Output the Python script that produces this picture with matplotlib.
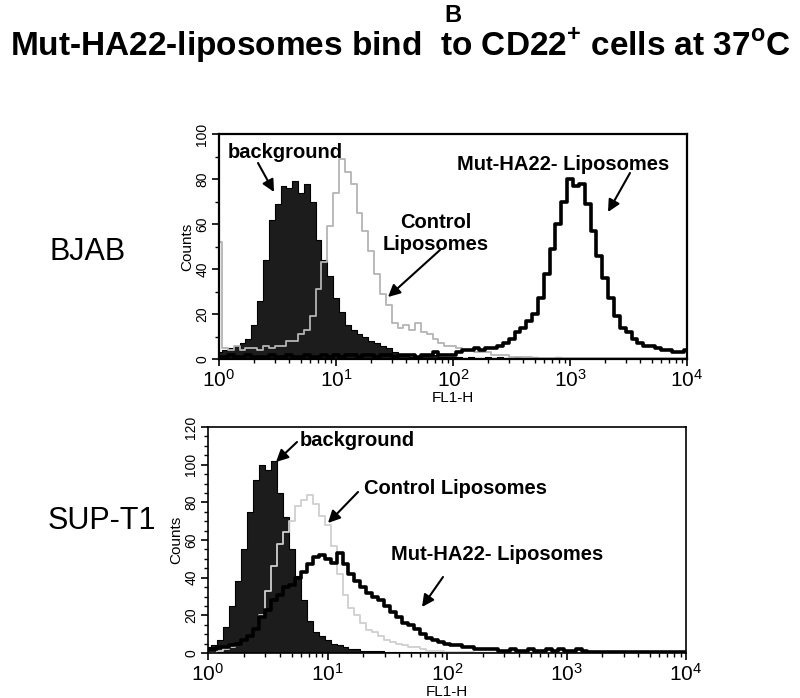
import numpy as np
import matplotlib
matplotlib.use("Agg")
import matplotlib.pyplot as plt
from matplotlib.ticker import MultipleLocator, LogLocator, NullFormatter

plt.rcParams['font.family'] = ['Liberation Sans', 'DejaVu Sans']
narrow = ['Liberation Sans Narrow', 'Liberation Sans', 'DejaVu Sans']

# FL1-H channels, every 0.05 decade from 10^0 to 10^4
fl1_log = np.round(np.arange(0, 4.0001, 0.05), 2)

# BJAB histograms (counts per channel)
bg_bjab = [3, 4, 5, 6, 7, 9, 15, 26, 44, 62, 69, 77, 76, 79, 74, 78, 70, 53, 44, 37,
           27, 21, 15, 13, 11, 10, 8, 7, 6, 5, 3, 2, 2, 1, 1, 2, 2, 2, 1, 1,
           1, 1, 0.5, 1, 0.5, 0.5, 1, 0.5, 1, 0.5, 0.5, 1, 0.5, 0.5, 1, 0.5, 0.5, 0.5, 1, 0.5,
           0.5, 0.5, 0.5, 0.5, 0.5, 0.5, 0.5, 0.5, 0.5, 0.5, 0.5, 0.5, 0.5, 0.5, 0.5, 0.5, 0.5, 0.5, 0.5, 0.5,
           0.5]
ctrl_bjab = [52, 5, 4, 6, 4, 5, 5, 4, 6, 5, 6, 6, 8, 8, 11, 13, 19, 31, 43, 59,
             74, 89, 83, 78, 65, 57, 48, 38, 29, 24, 16, 14, 15, 13, 16, 12, 11, 9, 7, 6,
             6, 5, 4, 4, 3, 3, 3, 2, 2, 2, 1, 1, 1, 1, 0.5, 0.5, 0.5, 0.5, 0.5, 0.5,
             0.5, 0.5, 0.5, 0.5, 0.5, 0.5, 0.5, 0.5, 0.5, 0.5, 0.5, 0.5, 0.5, 0.5, 0.5, 0.5, 0.5, 0.5, 0.5, 0.5,
             0.5]
mut_bjab = [1, 1, 2, 1, 1, 2, 1, 1, 1, 2, 1, 1, 2, 1, 1, 2, 1, 1, 2, 1,
            2, 1, 2, 2, 1, 2, 2, 1, 2, 2, 1, 2, 2, 2, 1, 2, 2, 3, 2, 2,
            2, 3, 4, 4, 5, 4, 5, 5, 6, 7, 9, 12, 14, 17, 20, 27, 38, 49, 60, 70,
            80, 77, 78, 69, 57, 46, 36, 27, 19, 14, 12, 9, 7, 6, 6, 5, 4, 4, 3, 3,
            4]

# SUP-T1 histograms
bg_sup = [3, 4, 7, 14, 25, 38, 55, 75, 92, 100, 97, 102, 85, 72, 55, 41, 28, 17, 11, 9,
          7, 5, 4, 3, 2, 2, 1, 1, 1, 1, 0.5, 0.5, 0.5, 0.5, 0.5, 0.5, 0.5, 0.5, 0.5, 0.5,
          0.5, 0.5, 0.5, 0.5, 0.5, 0.5, 0.5, 0.5, 0.5, 0.5, 0.5, 0.5, 0.5, 0.5, 0.5, 0.5, 0.5, 0.5, 0.5, 0.5,
          0, 0, 0, 0, 0, 0, 0, 0, 0, 0, 0, 0, 0, 0, 0, 0, 0, 0, 0, 0,
          0]
ctrl_sup = [0, 0, 1, 2, 3, 5, 7, 9, 13, 20, 33, 46, 58, 64, 70, 78, 81, 84, 79, 73,
            68, 57, 42, 31, 24, 20, 16, 12, 11, 9, 7, 6, 5, 4, 3, 3, 2, 1, 1, 1,
            0.5, 0.5, 0.5, 0.5, 0.5, 0, 0, 0, 0, 0, 0, 0, 0, 0, 0, 0, 0, 0, 0, 0,
            0, 0, 0, 0, 0, 0, 0, 0, 0, 0, 0, 0, 0, 0, 0, 0, 0, 0, 0, 0,
            0]
mut_sup = [2, 2, 3, 3, 4, 5, 7, 9, 13, 19, 23, 28, 31, 35, 36, 40, 43, 47, 51, 52,
           50, 48, 53, 47, 42, 38, 35, 32, 30, 28, 25, 22, 19, 16, 15, 13, 10, 8, 7, 6,
           5, 4, 4, 3, 3, 2, 2, 2, 2, 1, 1, 2, 1, 1, 2, 1, 1, 2, 1, 2,
           1, 1, 2, 1, 0.5, 0.5, 0.5, 0.5, 0.5, 0.5, 0.5, 0.5, 0.5, 0.5, 0.5, 0.5, 0.5, 0.5, 0.5, 0.5,
           0.5]

W, H = 800, 698
fig = plt.figure(figsize=(8, 6.98), dpi=100)


def fx(x):
    return x / W


def fy(y):
    return 1 - y / H


def panel(rect, bg, ctrl, mut, ymax, ystep, ctrl_color, spine_lw):
    ax = fig.add_axes(rect)
    x = 10 ** fl1_log
    ax.fill_between(x, bg, step='mid', color='#1c1c1c', lw=0, zorder=1)
    ax.plot(x, bg, drawstyle='steps-mid', color='black', lw=0.8, zorder=1)
    ax.plot(x, ctrl, drawstyle='steps-mid', color=ctrl_color, lw=1.3, zorder=2)
    ax.plot(x, mut, drawstyle='steps-mid', color='black', lw=2.6, zorder=3)
    ax.set_xscale('log')
    ax.set_xlim(1, 10 ** 4)
    ax.set_ylim(0, ymax)
    ax.set_xticks([1, 10, 100, 1000, 10000])
    ax.set_xticklabels([r'$\mathregular{10^{%d}}$' % k for k in range(5)],
                       fontsize=15, family=narrow)
    ax.xaxis.set_minor_locator(LogLocator(base=10, subs=np.arange(2, 10)))
    ax.xaxis.set_minor_formatter(NullFormatter())
    ax.set_yticks(np.arange(0, ymax + 1, 20))
    ax.set_yticklabels([str(v) for v in range(0, ymax + 1, 20)], rotation=90,
                       fontsize=10, va='center', family=narrow)
    ax.yaxis.set_minor_locator(MultipleLocator(ystep))
    ax.tick_params(which='major', direction='out', length=5, width=1.2, pad=2)
    ax.tick_params(which='minor', direction='out', length=3, width=1.0)
    ax.set_xlabel('FL1-H', fontsize=11, labelpad=0, family=narrow)
    ax.set_ylabel('Counts', fontsize=11, labelpad=1, family=narrow)
    for s in ax.spines.values():
        s.set_linewidth(spine_lw)
    return ax


ax1 = panel([fx(219), fy(359), fx(687 - 219), (359 - 134) / H],
            bg_bjab, ctrl_bjab, mut_bjab, 100, 10, '#b4b4b4', 1.6)
ax2 = panel([fx(208), fy(653), fx(686 - 208), (653 - 427) / H],
            bg_sup, ctrl_sup, mut_sup, 120, 5, '#cfcfcf', 1.2)

# titles
fig.text(fx(453), fy(16), 'B', fontsize=17, fontweight='bold', ha='center', va='center')
fig.text(fx(400), fy(46),
         r'Mut-HA22-liposomes bind  to CD22$^{\mathregular{+}}$ cells at 37$^{\mathregular{o}}$C',
         fontsize=24, fontweight='bold', ha='center', va='center')

# row labels
fig.text(fx(88), fy(252), 'BJAB', fontsize=22, ha='center', va='center')
fig.text(fx(102), fy(521), 'SUP-T1', fontsize=22, ha='center', va='center')

lab = dict(fontsize=14.5, fontweight='bold', ha='center', va='center')
arr = dict(arrowstyle='-|>,head_length=0.6,head_width=0.3', color='black', lw=1.5,
           shrinkA=0, shrinkB=0)


def note(text, pos, start, end):
    fig.text(fx(pos[0]), fy(pos[1]), text, **lab)
    fig.add_artist(matplotlib.patches.FancyArrowPatch(
        (fx(start[0]), fy(start[1])), (fx(end[0]), fy(end[1])),
        transform=fig.transFigure, mutation_scale=12, **arr))


# BJAB annotations
note('background', (285, 152), (258, 163), (274, 192))
note('Mut-HA22- Liposomes', (563, 165), (630, 173), (608, 212))
note('Control\nLiposomes', (436, 234), (440, 250), (388, 297))

# SUP-T1 annotations
note('background', (357, 440), (297, 442), (276, 462))
note('Control Liposomes', (455, 488), (358, 492), (328, 523))
note('Mut-HA22- Liposomes', (497, 555), (443, 577), (422, 607))

fig.savefig('out.png', dpi=100)
